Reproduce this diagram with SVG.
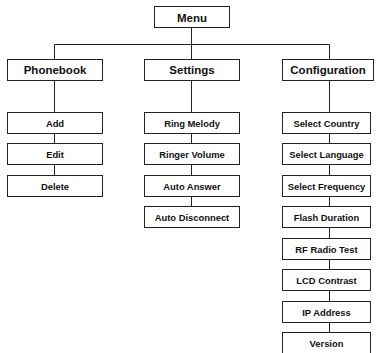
<svg xmlns="http://www.w3.org/2000/svg" width="377" height="353" viewBox="0 0 377 353">
<style>
rect{fill:#fff;stroke:#222;stroke-width:1}
.c line{stroke:#222;stroke-width:1}
text{font-family:"Liberation Sans",Arial,sans-serif;font-weight:bold;fill:#111;text-anchor:middle}
.t{font-size:11.5px}
.s{font-size:9.4px}
</style>
<rect x="0" y="0" width="377" height="353" style="stroke:none"/>
<g class="c" id="connectors">
<line x1="191.5" y1="27" x2="191.5" y2="44.5"/>
<line x1="54.5" y1="44.5" x2="329.5" y2="44.5"/>
<line x1="54.5" y1="44.5" x2="54.5" y2="59"/>
<line x1="191.5" y1="44.5" x2="191.5" y2="59"/>
<line x1="329.5" y1="44.5" x2="329.5" y2="59"/>
<line x1="54.5" y1="80" x2="54.5" y2="175"/>
<line x1="191.5" y1="80" x2="191.5" y2="207"/>
<line x1="329.5" y1="80" x2="329.5" y2="333"/>
</g>
<g id="menu"><rect x="154.5" y="6.5" width="75" height="21"/><text class="t" x="192" y="21.5">Menu</text></g>
<g id="phonebook"><rect x="7.5" y="59.5" width="95" height="21"/><text class="t" x="55" y="74">Phonebook</text></g>
<g id="settings"><rect x="144.5" y="59.5" width="95" height="21"/><text class="t" x="192" y="74">Settings</text></g>
<g id="configuration"><rect x="282.5" y="59.5" width="91" height="21"/><text class="t" x="328" y="74">Configuration</text></g>
<g id="add"><rect x="7.5" y="112.5" width="95" height="21"/><text class="s" x="55" y="126.5">Add</text></g>
<g id="edit"><rect x="7.5" y="143.5" width="95" height="21"/><text class="s" x="55" y="157.5">Edit</text></g>
<g id="delete"><rect x="7.5" y="175.5" width="95" height="21"/><text class="s" x="55" y="189.5">Delete</text></g>
<g id="ring-melody"><rect x="144.5" y="112.5" width="95" height="21"/><text class="s" x="192" y="126.5">Ring Melody</text></g>
<g id="ringer-volume"><rect x="144.5" y="143.5" width="95" height="21"/><text class="s" x="192" y="157.5">Ringer Volume</text></g>
<g id="auto-answer"><rect x="144.5" y="175.5" width="95" height="21"/><text class="s" x="192" y="189.5">Auto Answer</text></g>
<g id="auto-disconnect"><rect x="144.5" y="206.5" width="95" height="21"/><text class="s" x="192" y="220.5">Auto Disconnect</text></g>
<g id="select-country"><rect x="282.5" y="112.5" width="88" height="21"/><text class="s" x="326.5" y="126.5">Select Country</text></g>
<g id="select-language"><rect x="282.5" y="143.5" width="88" height="21"/><text class="s" x="326.5" y="157.5">Select Language</text></g>
<g id="select-frequency"><rect x="282.5" y="175.5" width="88" height="21"/><text class="s" x="326.5" y="189.5">Select Frequency</text></g>
<g id="flash-duration"><rect x="282.5" y="206.5" width="88" height="21"/><text class="s" x="326.5" y="220.5">Flash Duration</text></g>
<g id="rf-radio-test"><rect x="282.5" y="238.5" width="88" height="21"/><text class="s" x="326.5" y="252.5">RF Radio Test</text></g>
<g id="lcd-contrast"><rect x="282.5" y="269.5" width="88" height="21"/><text class="s" x="326.5" y="283.5">LCD Contrast</text></g>
<g id="ip-address"><rect x="282.5" y="301.5" width="88" height="21"/><text class="s" x="326.5" y="315.5">IP Address</text></g>
<g id="version"><rect x="282.5" y="332.5" width="88" height="22"/><text class="s" x="326.5" y="346.5">Version</text></g>
</svg>
